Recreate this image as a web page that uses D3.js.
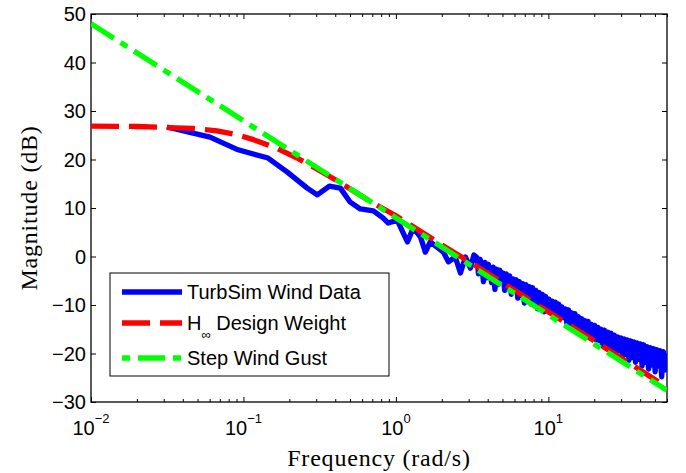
<!DOCTYPE html>
<html>
<head>
<meta charset="utf-8">
<script src="https://cdn.jsdelivr.net/npm/d3@7"></script>
<style>
    body { margin: 0; background: #fff; }
</style>
</head>
<body>
<div id="chart"></div>
<script>
// Values (frequency in rad/s, magnitude in dB)
const turbFreq = [0.0314, 0.0604, 0.0922, 0.145, 0.194, 0.262, 0.305, 0.366, 0.432, 0.502,
    0.584, 0.711, 0.826, 0.891, 1.02, 1.15, 1.19, 1.30, 1.45, 1.56, 1.68, 1.85, 2.05, 2.21,
    2.45, 2.65, 2.86, 3.08, 3.25,
    3.40, 3.48, 3.57, 3.66, 3.75, 3.84, 3.94, 4.04, 4.14, 4.24, 4.35, 4.46, 4.57, 4.68, 4.80,
    4.92, 5.04, 5.17, 5.30, 5.43, 5.57, 5.71, 5.85, 6.00, 6.15, 6.30, 6.46, 6.62, 6.79, 6.96,
    7.13, 7.31, 7.49, 7.68, 7.87, 8.07, 8.27, 8.48, 8.69, 8.91, 9.13, 9.36, 9.59, 9.83, 10.08,
    10.33, 10.59, 10.85, 11.12, 11.40, 11.69, 11.98, 12.28, 12.59, 12.90, 13.22, 13.55, 13.89,
    14.24, 14.60, 14.96, 15.34, 15.72, 16.11, 16.51, 16.93, 17.35, 17.78, 18.23, 18.68, 19.15,
    19.63, 20.12, 20.62, 21.14, 21.67, 22.21, 22.76, 23.33, 23.91, 24.51, 25.12, 25.75, 26.39,
    27.05, 27.73, 28.42, 29.13, 29.86, 30.61, 31.37, 32.16, 32.96, 33.78, 34.63, 35.49, 36.38,
    37.29, 38.22, 39.18, 40.16, 41.16, 42.19, 43.25, 44.33, 45.43, 46.57, 47.73, 48.93, 50.15,
    51.40, 52.69, 54.00, 55.35, 56.74, 58.16, 59.61];
const turbMag = [26.7, 24.6, 22.0, 20.3, 17.4, 14.1, 12.7, 14.5, 14.1, 11.2,
    9.8, 9.4, 7.9, 6.9, 7.5, 4.0, 3.0, 5.9, 4.0, 0.9, 3.0, 2.0, 0.9, -1.1,
    -0.1, -3.4, -0.1, -2.4, 0.3,
    -0.2, -3.6, -0.6, -1.8, -5.2, -1.2, -4.4, -1.6, -3.0, -5.4, -2.2, -6.8, -2.6, -5.8, -2.8,
    -4.8, -3.4, -7.0, -3.6, -6.4, -4.0, -7.8, -4.6, -6.0, -4.8, -8.6, -5.2, -8.0, -5.6, -9.6,
    -5.8, -8.4, -6.2, -9.8, -6.4, -9.2, -7.0, -10.8, -7.4, -10.2, -7.8, -11.4, -8.2, -10.6, -8.8,
    -11.6, -9.2, -11.8, -9.4, -12.4, -9.8, -12.8, -10.4, -12.6, -10.8, -13.8, -11.0, -14.0,
    -11.6, -14.6, -11.8, -14.2, -12.4, -15.6, -12.8, -15.2, -13.2, -16.2, -13.4, -16.4, -14.0,
    -16.6, -14.2, -17.2, -14.6, -17.4, -15.0, -18.4, -15.2, -18.0, -15.6, -19.0, -15.8, -18.8,
    -16.2, -19.8, -16.6, -19.4, -16.8, -20.6, -17.0, -20.2, -17.2, -21.4, -17.4, -20.8, -17.6,
    -21.8, -17.8, -21.2, -18.0, -22.6, -18.2, -21.8, -18.6, -23.2, -18.8, -22.4, -19.0, -23.8,
    -19.2, -22.6, -19.4, -24.8, -19.6, -23.4, -20.0];

const weightFreq = [0.01, 0.02, 0.0306, 0.0468, 0.0671, 0.0909, 0.116, 0.166, 0.225, 0.305,
    0.412, 0.502, 0.7, 1.0, 1.5, 2.0, 3.0, 5.0, 10, 20, 40, 60];
const weightMag = [26.9, 26.8, 26.6, 26.4, 25.9, 25.1, 24.1, 22.3, 20.3, 18.0,
    15.6, 13.9, 11.1, 8.4, 4.9, 2.4, -1.0, -5.4, -11.4, -17.4, -23.4, -27.0];

const gustFreq = [0.01, 60];
const gustMag = [48, -27.6];

const yTicks = [-30, -20, -10, 0, 10, 20, 30, 40, 50];
const xTicks = [0.01, 0.1, 1, 10];
const xTickExp = ["\u22122", "\u22121", "0", "1"];

const seriesNames = ["TurbSim Wind Data", "H", "Step Wind Gust"];
const seriesColors = ["#0000ff", "#ff0000", "#00ff00"];

class Chart {
    constructor() {
        const attrs = {
            svgWidth: 686,
            svgHeight: 473,
            marginTop: 14,
            marginLeft: 91,
            marginRight: 19,
            marginBottom: 71,
            container: "#chart",
            tickFont: "'Liberation Sans', Arial, Helvetica, sans-serif",
            labelFont: "'Liberation Serif', 'Times New Roman', serif",
            lineWidth: 5.3
        };
        this.getState = () => attrs;
        this.setState = (d) => Object.assign(attrs, d);
        this.initializeEnterExitUpdatePattern();
    }

    render() {
        this.calculateProperties();
        this.drawSvgAndWrappers();
        this.drawAxes();
        this.drawLines();
        this.drawLegend();
        return this;
    }

    calculateProperties() {
        const { svgWidth, svgHeight, marginTop, marginLeft, marginRight, marginBottom } = this.getState();
        const chartWidth = svgWidth - marginLeft - marginRight;
        const chartHeight = svgHeight - marginTop - marginBottom;
        const x = d3.scaleLog().domain([0.01, 60]).range([0, chartWidth]);
        const y = d3.scaleLinear().domain([-30, 50]).range([chartHeight, 0]);
        this.setState({ chartWidth, chartHeight, x, y });
    }

    drawSvgAndWrappers() {
        const { container, svgWidth, svgHeight, marginLeft, marginTop, chartWidth, chartHeight } = this.getState();
        const svg = d3.select(container)._add({ tag: "svg", className: "svg-chart-container" })
            .attr("width", svgWidth)
            .attr("height", svgHeight);

        svg._add({ tag: "defs", className: "defs" })
            ._add({ tag: "clipPath", className: "plot-clip" })
            .attr("id", "plot-clip")
            ._add({ tag: "rect", className: "plot-clip-rect" })
            .attr("width", chartWidth)
            .attr("height", chartHeight);

        const chart = svg._add({ tag: "g", className: "chart" })
            .attr("transform", `translate(${marginLeft},${marginTop})`);

        this.setState({ svg, chart });
    }

    drawAxes() {
        const { chart, x, y, chartWidth, chartHeight, tickFont, labelFont, marginLeft } = this.getState();
        const minorTicks = x.ticks().filter(v => !xTicks.includes(v));

        const axes = [
            { cls: "x-major-bottom", axis: d3.axisBottom(x).tickValues(xTicks).tickSizeInner(-5), t: `translate(0,${chartHeight})` },
            { cls: "x-minor-bottom", axis: d3.axisBottom(x).tickValues(minorTicks).tickSizeInner(-3), t: `translate(0,${chartHeight})` },
            { cls: "x-major-top", axis: d3.axisTop(x).tickValues(xTicks).tickSizeInner(-5), t: "translate(0,0)" },
            { cls: "x-minor-top", axis: d3.axisTop(x).tickValues(minorTicks).tickSizeInner(-3), t: "translate(0,0)" },
            { cls: "y-left", axis: d3.axisLeft(y).tickValues(yTicks).tickSizeInner(-5), t: "translate(0,0)" },
            { cls: "y-right", axis: d3.axisRight(y).tickValues(yTicks).tickSizeInner(-5), t: `translate(${chartWidth},0)` }
        ];
        axes.forEach(a => {
            const g = chart._add({ tag: "g", className: a.cls })
                .attr("transform", a.t)
                .call(a.axis.tickSizeOuter(0).tickFormat(""));
            g.select(".domain").remove();
            g.selectAll(".tick line").attr("stroke", "#000").attr("stroke-width", 1);
        });

        chart._add({ tag: "rect", className: "frame" })
            .attr("width", chartWidth)
            .attr("height", chartHeight)
            .attr("fill", "none")
            .attr("stroke", "#000")
            .attr("stroke-width", 1.3);

        // y tick labels
        chart._add({ tag: "text", className: "y-tick-label", data: yTicks })
            .attr("x", -5)
            .attr("y", d => y(d))
            .attr("dy", "0.36em")
            .attr("text-anchor", "end")
            .attr("font-family", tickFont)
            .attr("font-size", 20)
            .attr("fill", "#000")
            .text(d => d < 0 ? "\u2212" + Math.abs(d) : d);

        // x tick labels: 10 with superscript exponent
        const xl = chart._add({ tag: "text", className: "x-tick-label", data: xTicks })
            .attr("x", d => x(d))
            .attr("y", chartHeight + 33)
            .attr("text-anchor", "middle")
            .attr("font-family", tickFont)
            .attr("font-size", 20)
            .attr("fill", "#000");
        xl.selectAll("tspan").remove();
        xl.append("tspan").text("10");
        xl.append("tspan").attr("dy", -12).attr("font-size", 13).text((d, i) => xTickExp[i]);

        chart._add({ tag: "text", className: "x-title" })
            .attr("x", chartWidth / 2)
            .attr("y", chartHeight + 64)
            .attr("text-anchor", "middle")
            .attr("font-family", labelFont)
            .attr("font-size", 24)
            .attr("letter-spacing", 0.8)
            .attr("fill", "#000")
            .text("Frequency (rad/s)");

        chart._add({ tag: "text", className: "y-title" })
            .attr("transform", `translate(${-marginLeft + 37},${chartHeight / 2}) rotate(-90)`)
            .attr("text-anchor", "middle")
            .attr("font-family", labelFont)
            .attr("font-size", 24)
            .attr("letter-spacing", 0.8)
            .attr("fill", "#000")
            .text("Magnitude (dB)");
    }

    drawLines() {
        const { chart, x, y, lineWidth } = this.getState();
        const line = d3.line().x(d => x(d[0])).y(d => y(d[1]));
        const series = [
            { id: "turb", pts: d3.zip(turbFreq, turbMag), color: seriesColors[0], dash: null },
            { id: "weight", pts: d3.zip(weightFreq, weightMag), color: seriesColors[1], dash: "28,10" },
            { id: "gust", pts: d3.zip(gustFreq, gustMag), color: seriesColors[2], dash: "27,8,8,8" }
        ];
        chart._add({ tag: "g", className: "lines" })
            .attr("clip-path", "url(#plot-clip)")
            ._add({ tag: "path", className: "series-line", data: series })
            .attr("d", d => line(d.pts))
            .attr("fill", "none")
            .attr("stroke", d => d.color)
            .attr("stroke-width", lineWidth)
            .attr("stroke-linejoin", "round")
            .attr("stroke-dasharray", d => d.dash);
    }

    drawLegend() {
        const { chart, tickFont, lineWidth, marginLeft, marginTop } = this.getState();
        const legend = chart._add({ tag: "g", className: "legend" })
            .attr("transform", `translate(${110 - marginLeft},${273 - marginTop})`);

        legend._add({ tag: "rect", className: "legend-box" })
            .attr("width", 279)
            .attr("height", 103)
            .attr("fill", "#fff")
            .attr("stroke", "#000")
            .attr("stroke-width", 1);

        const rows = [
            { y: 19, color: seriesColors[0], dash: null, offset: 0 },
            { y: 50, color: seriesColors[1], dash: "28,10", offset: 0 },
            { y: 85, color: seriesColors[2], dash: "27,8,8,8", offset: 35 }
        ];
        legend._add({ tag: "line", className: "legend-line", data: rows })
            .attr("x1", 12)
            .attr("x2", 72)
            .attr("y1", d => d.y)
            .attr("y2", d => d.y)
            .attr("stroke", d => d.color)
            .attr("stroke-width", lineWidth)
            .attr("stroke-dasharray", d => d.dash)
            .attr("stroke-dashoffset", d => d.offset);

        const labels = legend._add({ tag: "text", className: "legend-label", data: rows })
            .attr("x", 77)
            .attr("y", d => d.y + 7)
            .attr("font-family", tickFont)
            .attr("font-size", 20)
            .attr("fill", "#000");
        labels.selectAll("tspan").remove();
        labels.filter((d, i) => i !== 1).text((d, i) => i === 0 ? seriesNames[0] : seriesNames[2]);
        const h = labels.filter((d, i) => i === 1);
        h.append("tspan").text(seriesNames[1]);
        h.append("tspan").attr("dy", 9).attr("font-size", 13).text("\u221e");
        h.append("tspan").attr("dy", -9).text(" Design Weight");
    }

    initializeEnterExitUpdatePattern() {
        d3.selection.prototype._add = function (params) {
            const container = this;
            const className = params.className;
            const data = params.data || [className];
            let selection = container.selectAll("." + className).data(data, (d, i) => i);
            selection.exit().remove();
            selection = selection.enter().append(params.tag).merge(selection);
            selection.attr("class", className);
            return selection;
        };
    }
}

new Chart().render();
</script>
</body>
</html>
